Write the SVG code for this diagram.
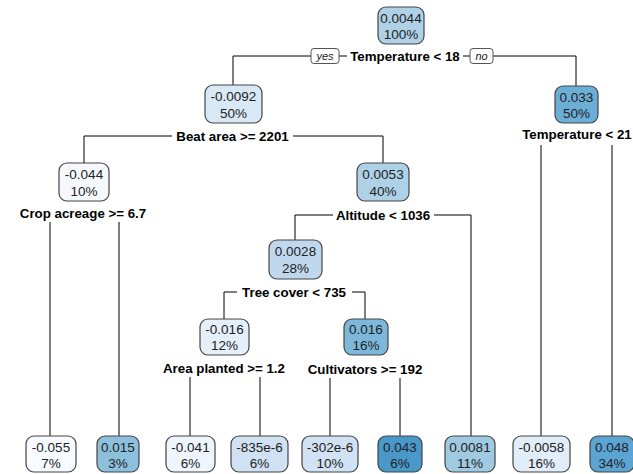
<svg xmlns="http://www.w3.org/2000/svg" width="633" height="474" viewBox="0 0 633 474">
<style>
.n rect{stroke:#444;stroke-width:1.2;}
.n text{font-family:"Liberation Sans",Arial,sans-serif;font-size:13.5px;fill:#222;text-anchor:middle;}
.s{font-family:"Liberation Sans",Arial,sans-serif;font-size:13.3px;font-weight:bold;fill:#000;text-anchor:middle;}
.c path{fill:none;stroke:#000;stroke-width:1;}
.yn rect{fill:#fff;stroke:#555;stroke-width:1;}
.yn text{font-family:"Liberation Sans",Arial,sans-serif;font-size:11px;font-style:italic;fill:#222;text-anchor:middle;}
</style>
<rect width="633" height="474" fill="#fff"/>
<g class="c" id="connectors">
<path d="M233,85 V56 H311"/>
<path d="M339,56 H347"/>
<path d="M463,56 H470"/>
<path d="M493,56 H576 V86"/>
<path d="M84,163 V136 H172"/>
<path d="M293,136 H383 V163"/>
<path d="M541,145 V436"/>
<path d="M612,145 V436"/>
<path d="M50,222 V436"/>
<path d="M119,222 V436"/>
<path d="M295,240 V215 H333"/>
<path d="M434,215 H471 V436"/>
<path d="M224,319 V292 H237"/>
<path d="M352,292 H365 V319"/>
<path d="M190,377 V436"/>
<path d="M260,377 V436"/>
<path d="M330,378 V436"/>
<path d="M400,378 V436"/>
</g>
<g class="yn" id="yes"><rect x="311" y="48.5" width="28" height="15" rx="3"/><text x="325" y="60">yes</text></g>
<g class="yn" id="no"><rect x="470" y="48.5" width="23" height="15" rx="3"/><text x="481.5" y="60">no</text></g>
<g id="labels">
<text class="s" x="405" y="61">Temperature &lt; 18</text>
<text class="s" x="232.5" y="141">Beat area &gt;= 2201</text>
<text class="s" x="577" y="139">Temperature &lt; 21</text>
<text class="s" x="83" y="218">Crop acreage &gt;= 6.7</text>
<text class="s" x="383" y="220">Altitude &lt; 1036</text>
<text class="s" x="294" y="297">Tree cover &lt; 735</text>
<text class="s" x="224" y="373">Area planted &gt;= 1.2</text>
<text class="s" x="365" y="374">Cultivators &gt;= 192</text>
</g>
<g class="n" id="n1"><rect x="378" y="7" width="46" height="37" rx="8" fill="#AFD1E7"/><text x="401" y="23">0.0044</text><text x="401" y="39">100%</text></g>
<g class="n" id="n2"><rect x="205" y="85" width="57" height="38" rx="8" fill="#D9E8F5"/><text x="233.5" y="101">-0.0092</text><text x="233.5" y="118">50%</text></g>
<g class="n" id="n3"><rect x="555" y="86" width="43" height="37" rx="8" fill="#6BAED6"/><text x="576.5" y="102">0.033</text><text x="576.5" y="118">50%</text></g>
<g class="n" id="n4"><rect x="59" y="163" width="50" height="38" rx="8" fill="#F5F9FE"/><text x="84" y="179">-0.044</text><text x="84" y="196">10%</text></g>
<g class="n" id="n5"><rect x="357" y="163" width="52" height="38" rx="8" fill="#AED1E7"/><text x="383" y="179">0.0053</text><text x="383" y="196">40%</text></g>
<g class="n" id="n6"><rect x="269" y="240" width="53" height="39" rx="8" fill="#BFD8ED"/><text x="295.5" y="256">0.0028</text><text x="295.5" y="273">28%</text></g>
<g class="n" id="n7"><rect x="200" y="319" width="49" height="36" rx="8" fill="#E4EFF9"/><text x="224.5" y="334">-0.016</text><text x="224.5" y="350">12%</text></g>
<g class="n" id="n8"><rect x="344" y="319" width="44" height="36" rx="8" fill="#7DB8DA"/><text x="366" y="334">0.016</text><text x="366" y="350">16%</text></g>
<g class="n" id="l1"><rect x="26" y="436" width="50" height="36" rx="8" fill="#F7FBFF"/><text x="51" y="452">-0.055</text><text x="51" y="468">7%</text></g>
<g class="n" id="l2"><rect x="97" y="436" width="42" height="36" rx="8" fill="#8DC0DD"/><text x="118" y="452">0.015</text><text x="118" y="468">3%</text></g>
<g class="n" id="l3"><rect x="166" y="436" width="49" height="36" rx="8" fill="#EEF5FC"/><text x="190.5" y="452">-0.041</text><text x="190.5" y="468">6%</text></g>
<g class="n" id="l4"><rect x="231" y="436" width="57" height="36" rx="8" fill="#CFE1F2"/><text x="259.5" y="452">-835e-6</text><text x="259.5" y="468">6%</text></g>
<g class="n" id="l5"><rect x="302" y="436" width="56" height="36" rx="8" fill="#D0E2F3"/><text x="330" y="452">-302e-6</text><text x="330" y="468">10%</text></g>
<g class="n" id="l6"><rect x="378" y="436" width="44" height="36" rx="8" fill="#4A98C9"/><text x="400" y="452">0.043</text><text x="400" y="468">6%</text></g>
<g class="n" id="l7"><rect x="445" y="436" width="50" height="36" rx="8" fill="#9FCAE1"/><text x="470" y="452">0.0081</text><text x="470" y="468">11%</text></g>
<g class="n" id="l8"><rect x="513" y="436" width="57" height="36" rx="8" fill="#E1EDF8"/><text x="541.5" y="452">-0.0058</text><text x="541.5" y="468">16%</text></g>
<g class="n" id="l9"><rect x="590" y="436" width="44" height="36" rx="8" fill="#5CA4D4"/><text x="612" y="452">0.048</text><text x="612" y="468">34%</text></g>
</svg>
